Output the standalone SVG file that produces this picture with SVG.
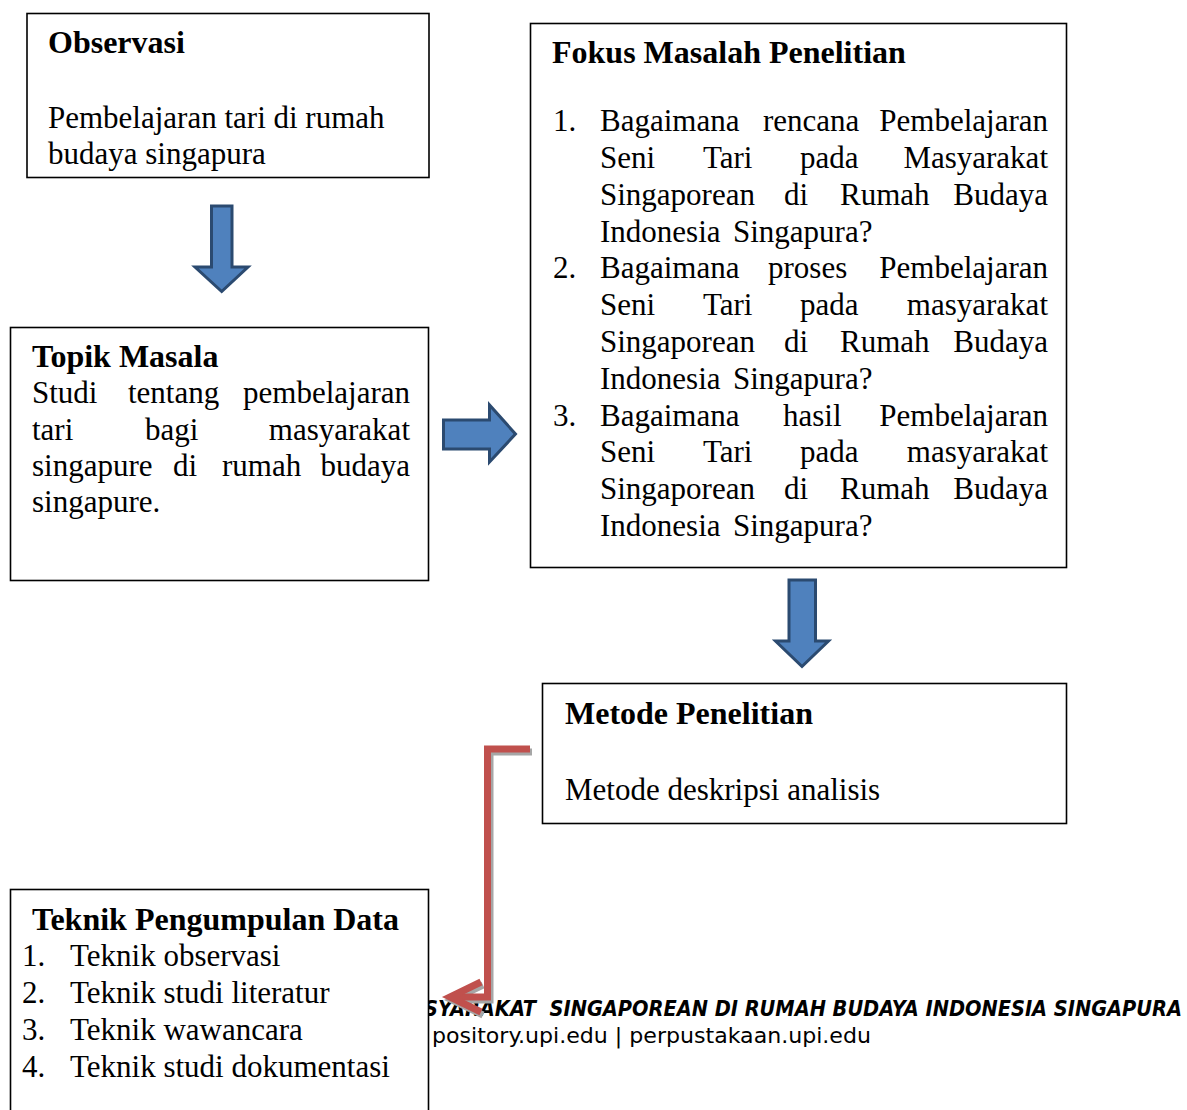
<svg xmlns="http://www.w3.org/2000/svg" width="1187" height="1110" viewBox="0 0 1187 1110">
<style>
.box{fill:#fff;stroke:#000;stroke-width:1.6}
.t{font-family:"Liberation Serif","Times New Roman",serif;font-size:31px;fill:#000}
.b{font-weight:bold;font-size:32px}
.e{text-anchor:end}
.blk{fill:#4f81bd;stroke:#2b4a70;stroke-width:3;stroke-linejoin:miter}
.conn{fill:none;stroke:#c0504d;stroke-width:7;stroke-linejoin:miter}
.shd{fill:none;stroke:#a6a6a6;stroke-width:7;stroke-linejoin:miter}
.ft{font-family:"DejaVu Sans Condensed","DejaVu Sans","Verdana",sans-serif;fill:#000}
</style>
<defs>
<marker id="chev" markerUnits="userSpaceOnUse" orient="auto" refX="0" refY="0" markerWidth="40" markerHeight="40" overflow="visible">
<path d="M-31,-15 L0,0 L-31,15" fill="none" stroke="#c0504d" stroke-width="7"/>
</marker>
<marker id="chevS" markerUnits="userSpaceOnUse" orient="auto" refX="0" refY="0" markerWidth="40" markerHeight="40" overflow="visible">
<path d="M-31,-15 L0,0 L-31,15" fill="none" stroke="#a6a6a6" stroke-width="7"/>
</marker>
</defs>
<rect width="1187" height="1110" fill="#fff"/>

<g id="footer">
<text class="ft" x="424" y="1016" font-size="21" font-weight="bold" font-style="italic" textLength="758" lengthAdjust="spacingAndGlyphs" xml:space="preserve">SYARAKAT  SINGAPOREAN DI RUMAH BUDAYA INDONESIA SINGAPURA</text>
<text class="ft" x="432" y="1043" font-size="21" textLength="439" lengthAdjust="spacingAndGlyphs">pository.upi.edu | perpustakaan.upi.edu</text>
</g>

<g id="observasi">
<rect class="box" x="27" y="13.5" width="402" height="164"/>
<text class="t b" x="48" y="53">Observasi</text>
<text class="t" x="48" y="128">Pembelajaran  tari di rumah</text>
<text class="t" x="48" y="164">budaya singapura</text>
</g>

<g id="topik">
<rect class="box" x="10.5" y="327.5" width="418" height="253"/>
<text class="t b" x="32" y="367">Topik Masala</text>
<text class="t" y="403"><tspan x="32">Studi</tspan><tspan x="128">tentang</tspan></text>
<text class="t e" x="410" y="403">pembelajaran</text>
<text class="t" y="440"><tspan x="32">tari</tspan><tspan x="145">bagi</tspan></text>
<text class="t e" x="410" y="440">masyarakat</text>
<text class="t" y="476"><tspan x="32">singapure</tspan><tspan x="173">di</tspan><tspan x="222">rumah</tspan></text>
<text class="t e" x="410" y="476">budaya</text>
<text class="t" x="32" y="512">singapure.</text>
</g>

<g id="fokus">
<rect class="box" x="530.5" y="23.5" width="536" height="544"/>
<text class="t b" x="552" y="63">Fokus Masalah Penelitian</text>
<text class="t" y="131"><tspan x="553">1.</tspan><tspan x="600">Bagaimana</tspan><tspan x="763">rencana</tspan></text>
<text class="t e" x="1048" y="131">Pembelajaran</text>
<text class="t" y="168"><tspan x="600">Seni</tspan><tspan x="703">Tari</tspan><tspan x="800">pada</tspan></text>
<text class="t e" x="1048" y="168">Masyarakat</text>
<text class="t" y="205"><tspan x="600">Singaporean</tspan><tspan x="784">di</tspan><tspan x="840">Rumah</tspan></text>
<text class="t e" x="1048" y="205">Budaya</text>
<text class="t" y="241.5"><tspan x="600">Indonesia</tspan><tspan x="733">Singapura?</tspan></text>
<text class="t" y="278"><tspan x="553">2.</tspan><tspan x="600">Bagaimana</tspan><tspan x="768">proses</tspan></text>
<text class="t e" x="1048" y="278">Pembelajaran</text>
<text class="t" y="315"><tspan x="600">Seni</tspan><tspan x="703">Tari</tspan><tspan x="800">pada</tspan></text>
<text class="t e" x="1048" y="315">masyarakat</text>
<text class="t" y="352"><tspan x="600">Singaporean</tspan><tspan x="784">di</tspan><tspan x="840">Rumah</tspan></text>
<text class="t e" x="1048" y="352">Budaya</text>
<text class="t" y="388.5"><tspan x="600">Indonesia</tspan><tspan x="733">Singapura?</tspan></text>
<text class="t" y="425.5"><tspan x="553">3.</tspan><tspan x="600">Bagaimana</tspan><tspan x="783">hasil</tspan></text>
<text class="t e" x="1048" y="425.5">Pembelajaran</text>
<text class="t" y="462"><tspan x="600">Seni</tspan><tspan x="703">Tari</tspan><tspan x="800">pada</tspan></text>
<text class="t e" x="1048" y="462">masyarakat</text>
<text class="t" y="499"><tspan x="600">Singaporean</tspan><tspan x="784">di</tspan><tspan x="840">Rumah</tspan></text>
<text class="t e" x="1048" y="499">Budaya</text>
<text class="t" y="536"><tspan x="600">Indonesia</tspan><tspan x="733">Singapura?</tspan></text>
</g>

<g id="metode">
<rect class="box" x="542.5" y="683.5" width="524" height="140"/>
<text class="t b" x="565" y="724">Metode Penelitian</text>
<text class="t" x="565" y="800">Metode deskripsi analisis</text>
</g>

<g id="teknik">
<rect class="box" x="10.5" y="889.5" width="418" height="240"/>
<text class="t b" x="32" y="930">Teknik Pengumpulan Data</text>
<text class="t" y="966"><tspan x="22">1.</tspan><tspan x="70">Teknik observasi</tspan></text>
<text class="t" y="1003"><tspan x="22">2.</tspan><tspan x="70">Teknik studi literatur</tspan></text>
<text class="t" y="1040"><tspan x="22">3.</tspan><tspan x="70">Teknik wawancara</tspan></text>
<text class="t" y="1077"><tspan x="22">4.</tspan><tspan x="70">Teknik studi dokumentasi</tspan></text>
</g>

<g id="connectors">
<polygon class="blk" points="211.5,206 232,206 232,267 248,267 221.7,291.5 195,267 211.5,267"/>
<polygon class="blk" points="443.5,420 489.5,420 489.5,405 515.5,434 489.5,462 489.5,449 443.5,449"/>
<polygon class="blk" points="789,580 815.5,580 815.5,641 828.5,641 802,666.5 775.5,641 789,641"/>
<path class="shd" d="M532,752 H490 V1000 H452" marker-end="url(#chevS)"/>
<path class="conn" d="M530,749 H487.5 V997 H450" marker-end="url(#chev)"/>
</g>
</svg>
